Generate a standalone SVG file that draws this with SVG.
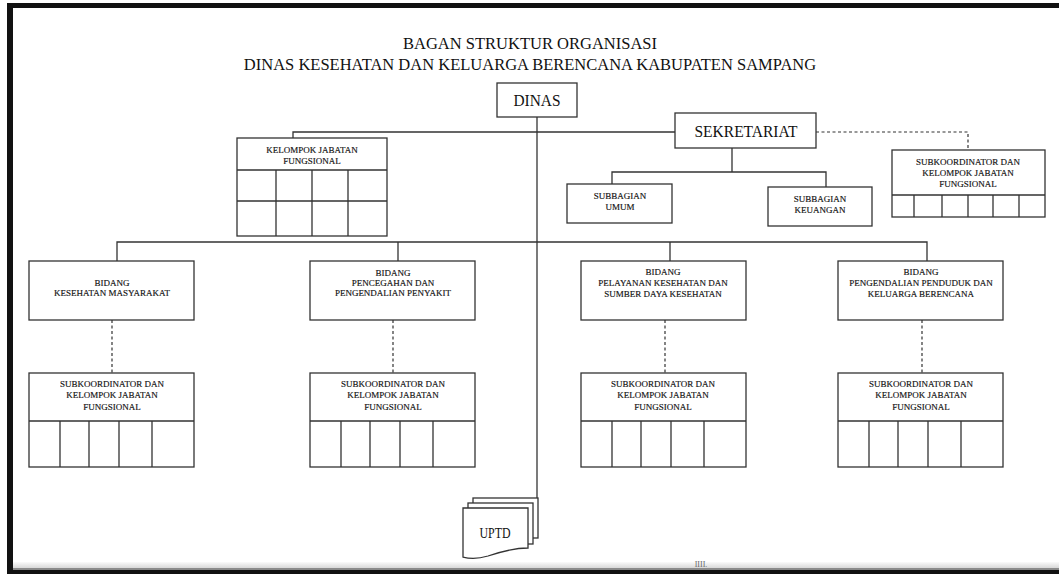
<svg xmlns="http://www.w3.org/2000/svg" width="1059" height="574" viewBox="0 0 1059 574">
<defs>
<style>
.t{font-family:"Liberation Serif","Times New Roman",serif;fill:#111;text-anchor:middle}
.title{font-size:16.5px}
.big{font-size:16.5px}
.sm{font-size:9px;stroke:#111;stroke-width:0.15}
.box{fill:#fff;stroke:#333;stroke-width:1.3}
.ln{fill:none;stroke:#333;stroke-width:1.3}
.ds{fill:none;stroke:#333;stroke-width:1.2;stroke-dasharray:3 2.5}
</style>
<linearGradient id="bot" x1="0" y1="0" x2="0" y2="1">
<stop offset="0" stop-color="#fafafa"/>
<stop offset="1" stop-color="#d8d8d8"/>
</linearGradient>
</defs>
<rect x="0" y="0" width="1059" height="574" fill="#fff"/>
<rect x="13" y="562" width="1046" height="6" fill="url(#bot)"/>
<rect x="13" y="568" width="1046" height="2" fill="#8a8a8a"/>
<rect x="7" y="570" width="1052" height="4" fill="#111"/>
<rect x="7" y="3" width="1052" height="5" fill="#111"/>
<rect x="7" y="3" width="6" height="571" fill="#111"/>
<text class="t" x="701" y="567" style="font-size:8px;fill:#666">IIII.</text>

<g id="title">
<text class="t title" x="530" y="49">BAGAN STRUKTUR ORGANISASI</text>
<text class="t title" x="530" y="70">DINAS KESEHATAN DAN KELUARGA BERENCANA KABUPATEN SAMPANG</text>
</g>

<g id="connectors">
<path class="ln" d="M537 117 V498"/>
<path class="ln" d="M293 138 V132 H675"/>
<path class="ln" d="M732 148 V172 M612 184 V172 H826 V187"/>
<path class="ln" d="M117 261 V242 H927 V261 M398 242 V261 M670 242 V261"/>
<path class="ds" d="M816 132 H968 V150"/>
<path class="ds" d="M112 320 V373 M393 320 V373 M665 320 V373 M922 320 V373"/>
</g>

<g id="dinas">
<rect class="box" x="497" y="83" width="80" height="34"/>
<text class="t" x="537" y="106" style="font-size:16px" textLength="47" lengthAdjust="spacingAndGlyphs">DINAS</text>
</g>

<g id="sekretariat">
<rect class="box" x="675" y="113" width="141" height="35"/>
<text class="t big" x="746" y="137" textLength="103" lengthAdjust="spacingAndGlyphs">SEKRETARIAT</text>
</g>

<g id="kelompok-jabatan-fungsional">
<rect class="box" x="237" y="138" width="150" height="98"/>
<path class="ln" d="M237 170 H387 M237 201 H387 M276 170 V236 M312 170 V236 M348 170 V236"/>
<text class="t sm" x="312" y="153">KELOMPOK JABATAN</text>
<text class="t sm" x="312" y="164">FUNGSIONAL</text>
</g>

<g id="subbagian-umum">
<rect class="box" x="567" y="184" width="105" height="39"/>
<text class="t sm" x="620" y="199">SUBBAGIAN</text>
<text class="t sm" x="620" y="210">UMUM</text>
</g>

<g id="subbagian-keuangan">
<rect class="box" x="768" y="187" width="104" height="39"/>
<text class="t sm" x="820" y="202">SUBBAGIAN</text>
<text class="t sm" x="820" y="213">KEUANGAN</text>
</g>

<g id="subkoordinator-sekretariat">
<rect class="box" x="892" y="150" width="153" height="67"/>
<path class="ln" d="M892 195 H1045 M914 195 V217 M942 195 V217 M968 195 V217 M993 195 V217 M1019 195 V217"/>
<text class="t sm" x="968" y="165">SUBKOORDINATOR DAN</text>
<text class="t sm" x="968" y="176">KELOMPOK JABATAN</text>
<text class="t sm" x="968" y="187">FUNGSIONAL</text>
</g>

<g id="bidang-kesmas">
<rect class="box" x="29" y="261" width="165" height="59"/>
<text class="t sm" x="112" y="286">BIDANG</text>
<text class="t sm" x="112" y="296">KESEHATAN MASYARAKAT</text>
</g>
<g id="bidang-p2p">
<rect class="box" x="310" y="261" width="165" height="59"/>
<text class="t sm" x="393" y="276">BIDANG</text>
<text class="t sm" x="393" y="286">PENCEGAHAN DAN</text>
<text class="t sm" x="393" y="296">PENGENDALIAN PENYAKIT</text>
</g>
<g id="bidang-yankes">
<rect class="box" x="581" y="261" width="165" height="59"/>
<text class="t sm" x="663" y="275">BIDANG</text>
<text class="t sm" x="663" y="286">PELAYANAN KESEHATAN DAN</text>
<text class="t sm" x="663" y="297">SUMBER DAYA KESEHATAN</text>
</g>
<g id="bidang-kb">
<rect class="box" x="838" y="261" width="165" height="59"/>
<text class="t sm" x="921" y="275">BIDANG</text>
<text class="t sm" x="921" y="286">PENGENDALIAN PENDUDUK DAN</text>
<text class="t sm" x="921" y="297">KELUARGA BERENCANA</text>
</g>

<g id="subkoordinator-1">
<rect class="box" x="29" y="373" width="165" height="94"/>
<path class="ln" d="M29 421 H194 M60 421 V467 M89 421 V467 M119 421 V467 M152 421 V467"/>
<text class="t sm" x="112" y="387">SUBKOORDINATOR DAN</text>
<text class="t sm" x="112" y="398">KELOMPOK JABATAN</text>
<text class="t sm" x="112" y="410">FUNGSIONAL</text>
</g>
<g id="subkoordinator-2">
<rect class="box" x="310" y="373" width="165" height="94"/>
<path class="ln" d="M310 421 H475 M341 421 V467 M370 421 V467 M400 421 V467 M433 421 V467"/>
<text class="t sm" x="393" y="387">SUBKOORDINATOR DAN</text>
<text class="t sm" x="393" y="398">KELOMPOK JABATAN</text>
<text class="t sm" x="393" y="410">FUNGSIONAL</text>
</g>
<g id="subkoordinator-3">
<rect class="box" x="581" y="373" width="165" height="94"/>
<path class="ln" d="M581 421 H746 M612 421 V467 M641 421 V467 M671 421 V467 M704 421 V467"/>
<text class="t sm" x="663" y="387">SUBKOORDINATOR DAN</text>
<text class="t sm" x="663" y="398">KELOMPOK JABATAN</text>
<text class="t sm" x="663" y="410">FUNGSIONAL</text>
</g>
<g id="subkoordinator-4">
<rect class="box" x="838" y="373" width="165" height="94"/>
<path class="ln" d="M838 421 H1003 M869 421 V467 M898 421 V467 M928 421 V467 M961 421 V467"/>
<text class="t sm" x="921" y="387">SUBKOORDINATOR DAN</text>
<text class="t sm" x="921" y="398">KELOMPOK JABATAN</text>
<text class="t sm" x="921" y="410">FUNGSIONAL</text>
</g>

<g id="uptd">
<rect class="box" x="473" y="498" width="65" height="40"/>
<rect class="box" x="468" y="503" width="65" height="41"/>
<path class="box" d="M463 508 H528 V548 C515 548 500 552 488 556 C478 559 470 559 463 557 Z"/>
<text class="t" x="495" y="538" style="font-size:15px" textLength="31" lengthAdjust="spacingAndGlyphs">UPTD</text>
</g>
</svg>
